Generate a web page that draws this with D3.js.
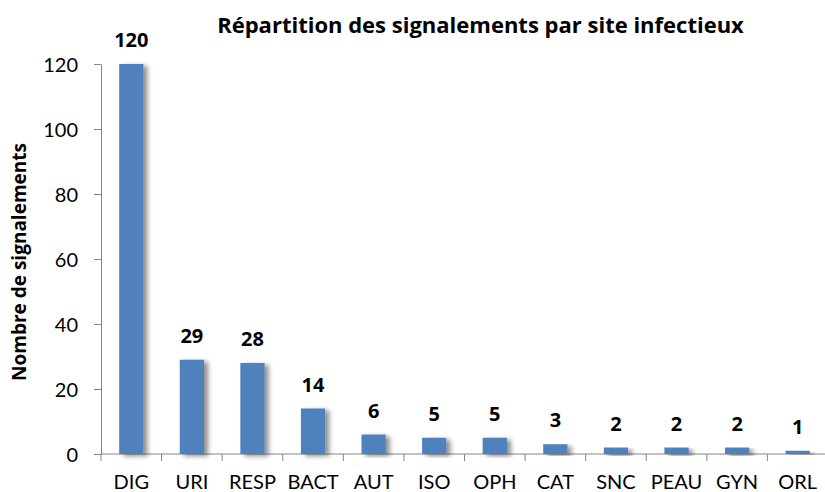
<!DOCTYPE html>
<html>
<head>
<meta charset="utf-8">
<script src="https://cdn.jsdelivr.net/npm/d3@7"></script>
<style>
  body { margin: 0; background: #fff; }
  text { font-family: Lato, "Open Sans", sans-serif; }
  .bold { font-family: "Open Sans", Lato, sans-serif; font-weight: bold; }
</style>
</head>
<body>
<svg id="chart" width="825" height="492"></svg>
<script>
const categories = ["DIG", "URI", "RESP", "BACT", "AUT", "ISO", "OPH", "CAT", "SNC", "PEAU", "GYN", "ORL"]
const values = [120, 29, 28, 14, 6, 5, 5, 3, 2, 2, 2, 1]
const yTicks = [0, 20, 40, 60, 80, 100, 120]

const svg = d3.select("#chart")
const margins = { top: 64, left: 101, bottom: 38, right: -3 }
const svgWidth = 825, svgHeight = 492
const plotWidth = svgWidth - margins.left - margins.right
const plotHeight = svgHeight - margins.top - margins.bottom

const defs = svg.append("defs")
const shadow = defs.append("filter").attr("id", "shadow")
    .attr("x", "-50%").attr("y", "-20%").attr("width", "200%").attr("height", "140%")
shadow.append("feGaussianBlur").attr("in", "SourceAlpha").attr("stdDeviation", 2.5)
shadow.append("feOffset").attr("dx", 4).attr("dy", 2).attr("result", "blur")
shadow.append("feComponentTransfer").append("feFuncA").attr("type", "linear").attr("slope", 0.45)
const merge = shadow.append("feMerge")
merge.append("feMergeNode")
merge.append("feMergeNode").attr("in", "SourceGraphic")

const xScale = d3.scaleBand()
    .domain(categories)
    .range([0, plotWidth])
    .paddingInner(0.6)
    .paddingOuter(0.3)
const yScale = d3.scaleLinear()
    .domain([0, 120])
    .range([plotHeight, 0])

const plot = svg.append("g")
    .attr("transform", `translate(${margins.left},${margins.top})`)

// y axis
const yAxis = plot.append("g")
    .call(d3.axisLeft(yScale).tickValues(yTicks).tickSize(7).tickSizeOuter(0))
yAxis.selectAll("path, line").attr("stroke", "#868686")
yAxis.selectAll("text")
    .attr("font-size", 20)
    .attr("fill", "#000")
    .attr("x", -23)
    .attr("dy", "0.35em")

// x axis: ticks on category boundaries
const boundaries = d3.range(categories.length + 1).map(i => i * plotWidth / categories.length)
const xAxis = plot.append("g").attr("transform", `translate(0,${plotHeight})`)
xAxis.append("line")
    .attr("x1", 0).attr("x2", plotWidth)
    .attr("stroke", "#868686")
xAxis.selectAll(".xtick")
    .data(boundaries)
    .enter()
    .append("line")
    .attr("x1", d => d).attr("x2", d => d)
    .attr("y1", 0).attr("y2", 7)
    .attr("stroke", "#868686")
xAxis.selectAll(".xlabel")
    .data(categories)
    .enter()
    .append("text")
    .attr("x", d => xScale(d) + xScale.bandwidth() / 2)
    .attr("y", 35)
    .attr("text-anchor", "middle")
    .attr("font-size", 20)
    .text(d => d)

// bars
plot.selectAll(".bar")
    .data(values)
    .enter()
    .append("rect")
    .attr("x", (d, i) => xScale(categories[i]))
    .attr("y", d => yScale(d))
    .attr("width", xScale.bandwidth())
    .attr("height", d => plotHeight - yScale(d))
    .attr("fill", "#4F81BD")
    .attr("filter", "url(#shadow)")

plot.selectAll(".value")
    .data(values)
    .enter()
    .append("text")
    .attr("class", "bold")
    .attr("x", (d, i) => xScale(categories[i]) + xScale.bandwidth() / 2)
    .attr("y", d => yScale(d) - 17)
    .attr("text-anchor", "middle")
    .attr("font-size", 20)
    .text(d => d)

// titles
svg.append("text")
    .attr("class", "bold")
    .attr("x", 480.5)
    .attr("y", 33)
    .attr("text-anchor", "middle")
    .attr("font-size", 22)
    .text("Répartition des signalements par site infectieux")

svg.append("text")
    .attr("class", "bold")
    .attr("transform", "translate(26,262) rotate(-90)")
    .attr("text-anchor", "middle")
    .attr("font-size", 19)
    .text("Nombre de signalements")
</script>
</body>
</html>
